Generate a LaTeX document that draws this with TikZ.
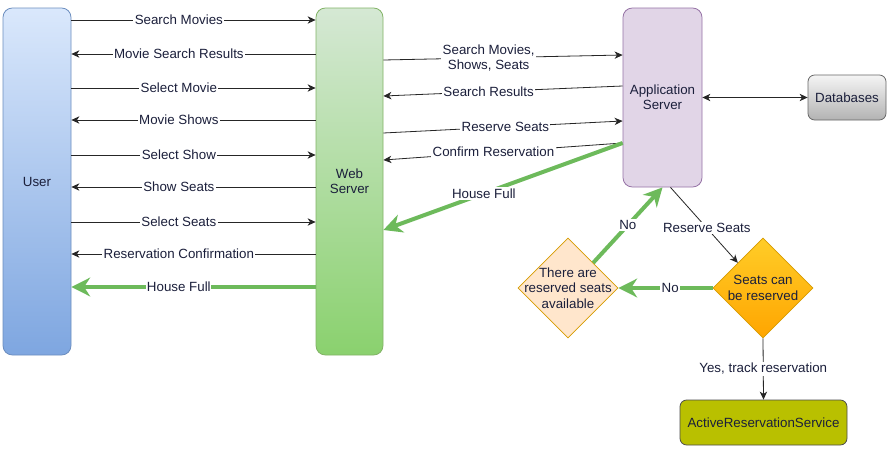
\documentclass[tikz,border=0pt]{standalone}
\usepackage{fontspec}
\setmainfont{Liberation Sans}
\usetikzlibrary{arrows.meta,shapes.geometric}

\definecolor{txt}{HTML}{1B1F3B}
\definecolor{hfgreen}{HTML}{6DBA5B}
\definecolor{usertop}{HTML}{DAE8FC}
\definecolor{userbot}{HTML}{7EA6E0}
\definecolor{userline}{HTML}{6C8EBF}
\definecolor{webtop}{HTML}{D5E8D4}
\definecolor{webbot}{HTML}{8AD16E}
\definecolor{webline}{HTML}{82B366}
\definecolor{appfill}{HTML}{E1D5E7}
\definecolor{appline}{HTML}{9673A6}
\definecolor{seattop}{HTML}{FFCD28}
\definecolor{seatbot}{HTML}{FFA500}
\definecolor{chkfill}{HTML}{FFE6CC}
\definecolor{diline}{HTML}{D79B00}
\definecolor{arsfill}{HTML}{B9C000}

\begin{document}
\begin{tikzpicture}[x=0.75pt,y=-0.75pt,
    font=\fontsize{10}{11.5}\selectfont, text=txt,
    lane/.style={draw, rounded corners=7pt, line width=0.6pt, minimum height=260.25pt},
    box/.style={draw, rounded corners=5pt, line width=0.6pt, minimum height=33.75pt},
    dia/.style={diamond, draw, line width=0.6pt, inner sep=0pt, minimum width=75pt, minimum height=75pt},
    lbl/.style={fill=white, inner sep=1pt},
    msg/.style={draw=black!85, line width=0.6pt, -{Stealth[length=6pt,width=5.5pt,inset=1.8pt]}},
    full/.style={draw=hfgreen, line width=3pt, -{Stealth[length=14pt,width=14pt,inset=4.5pt]}}]

  \useasboundingbox[fill=white] (0,0) rectangle (890,450);

  % lanes and boxes
  \node[lane, minimum width=51pt, draw=userline, top color=usertop, bottom color=userbot] (user) at (37,181.5) {User};
  \node[lane, minimum width=50.25pt, draw=webline, top color=webtop, bottom color=webbot, align=center] (web) at (349.5,181.5) {Web\\Server};
  \node[lane, minimum width=59.25pt, minimum height=134.25pt, draw=appline, fill=appfill, align=center] (app) at (662.5,97.5) {Application\\Server};
  \node[box, minimum width=58.5pt, draw=gray!80!black, top color=gray!8, bottom color=gray!60] (db) at (847,97.5) {Databases};
  \node[dia, draw=diline, top color=seattop, bottom color=seatbot] (seat) at (763,288) {};
  \node[align=center] at (seat) {Seats can\\be reserved};
  \node[dia, draw=diline, fill=chkfill] (chk) at (568,288) {};
  \node[align=center] at (chk) {There are\\reserved seats\\available};
  \node[box, minimum width=125.25pt, draw=gray!60!black, fill=arsfill] (ars) at (763.5,422.5) {ActiveReservationService};

  % user <-> web server
  \draw[msg] (user.east |- 0,20) -- node[lbl, pos=0.44] {Search Movies} (web.west |- 0,20);
  \draw[msg] (web.west |- 0,54) -- node[lbl, pos=0.56] {Movie Search Results} (user.east |- 0,54);
  \draw[msg] (user.east |- 0,88) -- node[lbl, pos=0.44] {Select Movie} (web.west |- 0,88);
  \draw[msg] (web.west |- 0,120) -- node[lbl, pos=0.56] {Movie Shows} (user.east |- 0,120);
  \draw[msg] (user.east |- 0,155) -- node[lbl, pos=0.44] {Select Show} (web.west |- 0,155);
  \draw[msg] (web.west |- 0,187) -- node[lbl, pos=0.56] {Show Seats} (user.east |- 0,187);
  \draw[msg] (user.east |- 0,222) -- node[lbl, pos=0.44] {Select Seats} (web.west |- 0,222);
  \draw[msg] (web.west |- 0,254) -- node[lbl, pos=0.56] {Reservation Confirmation} (user.east |- 0,254);
  \draw[full] (web.west |- 0,287) -- node[lbl, pos=0.56, inner sep=0.5pt] {House Full} (user.east |- 0,287);

  % web server <-> application server
  \draw[msg] (web.east |- 0,60) -- node[lbl, pos=0.44, align=center] {Search Movies,\\Shows, Seats} (app.west |- 0,55);
  \draw[msg] (app.west |- 0,86) -- node[lbl, pos=0.56] {Search Results} (web.east |- 0,96);
  \draw[msg] (web.east |- 0,133) -- node[lbl, pos=0.51] {Reserve Seats} (app.west |- 0,121);
  \draw[msg] (app.west |- 0,143) -- node[lbl, pos=0.54] {Confirm Reservation} (web.east |- 0,160);
  \draw[full] (app.west |- 0,143) -- node[lbl, pos=0.58] {House Full} (web.east |- 0,230);

  % application server side
  \draw[msg, {Stealth[length=6pt,width=5.5pt,inset=1.8pt]}-{Stealth[length=6pt,width=5.5pt,inset=1.8pt]}] (app.east) -- (db.west);
  \draw[msg] ([xshift=6pt]app.south) -- node[lbl, pos=0.54] {Reserve Seats} (seat.north west);
  \draw[full] (seat.west) -- node[lbl, pos=0.45] {No} (chk.east);
  \draw[full] (chk.north east) -- node[lbl, pos=0.5] {No} (app.south);
  \draw[msg] (seat.south) -- node[lbl] {Yes, track reservation} (ars.north);
\end{tikzpicture}
\end{document}
